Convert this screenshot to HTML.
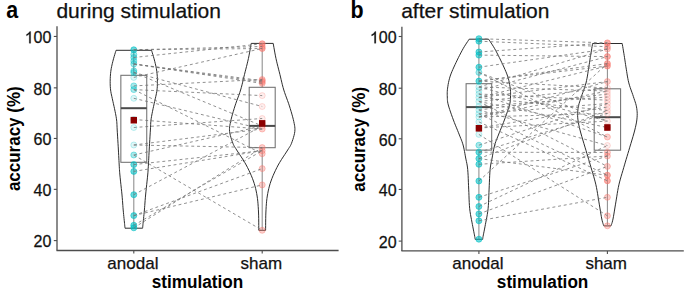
<!DOCTYPE html>
<html><head><meta charset="utf-8"><style>
html,body{margin:0;padding:0;background:#fff;width:685px;height:292px;overflow:hidden}
svg{display:block;font-family:"Liberation Sans",sans-serif}
</style></head><body>
<svg width="685" height="292" viewBox="0 0 685 292">
<rect width="685" height="292" fill="#fff"/>
<path d="M151.55,50.30 L151.87,51.35 L152.31,52.80 L152.84,54.52 L153.39,56.39 L153.93,58.25 L154.40,60.00 L154.82,61.65 L155.23,63.31 L155.63,64.98 L155.99,66.66 L156.32,68.33 L156.60,70.00 L156.83,71.67 L157.01,73.33 L157.16,75.00 L157.27,76.67 L157.35,78.33 L157.40,80.00 L157.42,81.67 L157.41,83.33 L157.38,85.00 L157.30,86.67 L157.17,88.33 L157.00,90.00 L156.76,91.67 L156.46,93.33 L156.11,95.00 L155.74,96.67 L155.36,98.33 L155.00,100.00 L154.64,101.67 L154.27,103.33 L153.89,105.00 L153.51,106.67 L153.15,108.33 L152.80,110.00 L152.46,111.67 L152.13,113.33 L151.80,115.00 L151.50,116.67 L151.23,118.33 L151.00,120.00 L150.84,121.55 L150.73,122.96 L150.66,124.38 L150.60,125.93 L150.52,127.75 L150.40,130.00 L150.23,132.81 L150.03,136.11 L149.81,139.69 L149.59,143.33 L149.38,146.84 L149.20,150.00 L149.04,152.85 L148.90,155.56 L148.77,158.12 L148.64,160.56 L148.52,162.85 L148.40,165.00 L148.29,166.84 L148.21,168.33 L148.13,169.69 L148.03,171.11 L147.90,172.81 L147.70,175.00 L147.42,177.81 L147.07,181.11 L146.68,184.69 L146.29,188.33 L145.91,191.84 L145.60,195.00 L145.35,197.82 L145.13,200.48 L144.94,203.00 L144.77,205.41 L144.59,207.73 L144.40,210.00 L144.19,212.24 L143.98,214.44 L143.76,216.55 L143.56,218.54 L143.37,220.37 L143.20,222.00 L143.06,223.44 L142.93,224.73 L142.83,225.85 L142.73,226.81 L142.66,227.59 L142.60,228.20 L125.00,228.20 L124.94,227.59 L124.87,226.81 L124.78,225.85 L124.67,224.73 L124.54,223.44 L124.40,222.00 L124.23,220.37 L124.04,218.54 L123.84,216.55 L123.62,214.44 L123.41,212.24 L123.20,210.00 L123.01,207.73 L122.83,205.41 L122.66,203.00 L122.47,200.48 L122.25,197.82 L122.00,195.00 L121.69,191.84 L121.31,188.33 L120.92,184.69 L120.53,181.11 L120.18,177.81 L119.90,175.00 L119.70,172.81 L119.57,171.11 L119.47,169.69 L119.39,168.33 L119.31,166.84 L119.20,165.00 L119.08,162.85 L118.96,160.56 L118.83,158.12 L118.70,155.56 L118.56,152.85 L118.40,150.00 L118.22,146.84 L118.01,143.33 L117.79,139.69 L117.57,136.11 L117.37,132.81 L117.20,130.00 L117.08,127.75 L117.00,125.93 L116.94,124.38 L116.87,122.96 L116.76,121.55 L116.60,120.00 L116.37,118.33 L116.10,116.67 L115.80,115.00 L115.47,113.33 L115.14,111.67 L114.80,110.00 L114.45,108.33 L114.09,106.67 L113.71,105.00 L113.33,103.33 L112.96,101.67 L112.60,100.00 L112.24,98.33 L111.86,96.67 L111.49,95.00 L111.14,93.33 L110.84,91.67 L110.60,90.00 L110.43,88.33 L110.30,86.67 L110.23,85.00 L110.19,83.33 L110.18,81.67 L110.20,80.00 L110.25,78.33 L110.33,76.67 L110.44,75.00 L110.59,73.33 L110.77,71.67 L111.00,70.00 L111.28,68.33 L111.61,66.66 L111.97,64.98 L112.37,63.31 L112.78,61.65 L113.20,60.00 L113.67,58.25 L114.21,56.39 L114.76,54.52 L115.29,52.80 L115.73,51.35 L116.05,50.30 Z" fill="none" stroke="#222" stroke-width="0.95" stroke-linejoin="round"/>
<path d="M273.20,43.40 L273.49,45.05 L273.89,47.32 L274.36,50.01 L274.88,52.93 L275.44,55.86 L276.00,58.60 L276.59,61.20 L277.22,63.83 L277.88,66.48 L278.56,69.13 L279.24,71.77 L279.90,74.40 L280.53,77.01 L281.14,79.60 L281.74,82.19 L282.37,84.79 L283.05,87.38 L283.80,90.00 L284.65,92.63 L285.59,95.29 L286.57,97.94 L287.56,100.60 L288.52,103.26 L289.40,105.90 L290.24,108.60 L291.08,111.36 L291.89,114.13 L292.63,116.80 L293.28,119.32 L293.80,121.60 L294.21,123.56 L294.54,125.26 L294.78,126.79 L294.91,128.27 L294.92,129.81 L294.80,131.50 L294.50,133.42 L294.04,135.48 L293.45,137.60 L292.80,139.67 L292.13,141.61 L291.50,143.30 L290.96,144.62 L290.48,145.60 L289.99,146.45 L289.41,147.34 L288.67,148.46 L287.70,150.00 L286.42,152.01 L284.87,154.35 L283.16,156.92 L281.41,159.62 L279.72,162.35 L278.20,165.00 L276.83,167.62 L275.50,170.30 L274.24,173.00 L273.06,175.70 L271.97,178.38 L271.00,181.00 L270.15,183.55 L269.42,186.04 L268.79,188.50 L268.23,190.96 L267.74,193.45 L267.30,196.00 L266.92,198.58 L266.62,201.17 L266.39,203.79 L266.20,206.46 L266.04,209.19 L265.90,212.00 L265.78,215.13 L265.71,218.61 L265.66,222.15 L265.64,225.47 L265.62,228.28 L265.60,230.30 L258.80,230.30 L258.78,228.28 L258.76,225.47 L258.74,222.15 L258.69,218.61 L258.62,215.13 L258.50,212.00 L258.36,209.19 L258.20,206.46 L258.01,203.79 L257.78,201.17 L257.48,198.58 L257.10,196.00 L256.66,193.45 L256.17,190.96 L255.61,188.50 L254.98,186.04 L254.25,183.55 L253.40,181.00 L252.43,178.38 L251.34,175.70 L250.16,173.00 L248.90,170.30 L247.57,167.62 L246.20,165.00 L244.68,162.35 L242.99,159.62 L241.24,156.92 L239.53,154.35 L237.98,152.01 L236.70,150.00 L235.73,148.46 L234.99,147.34 L234.41,146.45 L233.92,145.60 L233.44,144.62 L232.90,143.30 L232.27,141.61 L231.60,139.67 L230.95,137.60 L230.36,135.48 L229.90,133.42 L229.60,131.50 L229.48,129.81 L229.49,128.27 L229.62,126.79 L229.86,125.26 L230.19,123.56 L230.60,121.60 L231.12,119.32 L231.77,116.80 L232.51,114.13 L233.32,111.36 L234.16,108.60 L235.00,105.90 L235.88,103.26 L236.84,100.60 L237.83,97.94 L238.81,95.29 L239.75,92.63 L240.60,90.00 L241.35,87.38 L242.03,84.79 L242.66,82.19 L243.26,79.60 L243.87,77.01 L244.50,74.40 L245.16,71.77 L245.84,69.13 L246.52,66.48 L247.18,63.83 L247.81,61.20 L248.40,58.60 L248.96,55.86 L249.52,52.93 L250.04,50.01 L250.51,47.32 L250.91,45.05 L251.20,43.40 Z" fill="none" stroke="#222" stroke-width="0.95" stroke-linejoin="round"/>
<line x1="133.8" y1="49.8" x2="133.8" y2="75.3" stroke="#8c8c8c" stroke-width="1.05"/>
<line x1="133.8" y1="162.3" x2="133.8" y2="227.8" stroke="#8c8c8c" stroke-width="1.05"/>
<rect x="120.85000000000001" y="75.3" width="25.9" height="87.00000000000001" fill="none" stroke="#707070" stroke-width="1.05"/>
<line x1="120.85000000000001" y1="108.2" x2="146.75" y2="108.2" stroke="#4a4a4a" stroke-width="2"/>
<line x1="262.2" y1="43.6" x2="262.2" y2="87.3" stroke="#8c8c8c" stroke-width="1.05"/>
<line x1="262.2" y1="147.7" x2="262.2" y2="230.3" stroke="#8c8c8c" stroke-width="1.05"/>
<rect x="249.2" y="87.3" width="26.0" height="60.39999999999999" fill="none" stroke="#707070" stroke-width="1.05"/>
<line x1="249.2" y1="125.9" x2="275.2" y2="125.9" stroke="#4a4a4a" stroke-width="2"/>
<circle cx="133.8" cy="49.8" r="3.0" fill="#00BFC4" fill-opacity="0.58" stroke="#00BFC4" stroke-opacity="0.72" stroke-width="0.8"/>
<circle cx="133.8" cy="54.5" r="3.0" fill="#00BFC4" fill-opacity="0.34" stroke="#00BFC4" stroke-opacity="0.52" stroke-width="0.8"/>
<circle cx="133.8" cy="57.5" r="3.0" fill="#00BFC4" fill-opacity="0.34" stroke="#00BFC4" stroke-opacity="0.52" stroke-width="0.8"/>
<circle cx="133.8" cy="61" r="3.0" fill="#00BFC4" fill-opacity="0.34" stroke="#00BFC4" stroke-opacity="0.52" stroke-width="0.8"/>
<circle cx="133.8" cy="64" r="3.0" fill="#00BFC4" fill-opacity="0.34" stroke="#00BFC4" stroke-opacity="0.52" stroke-width="0.8"/>
<circle cx="133.8" cy="70.8" r="3.0" fill="#00BFC4" fill-opacity="0.34" stroke="#00BFC4" stroke-opacity="0.52" stroke-width="0.8"/>
<circle cx="133.8" cy="72.5" r="3.0" fill="#00BFC4" fill-opacity="0.34" stroke="#00BFC4" stroke-opacity="0.52" stroke-width="0.8"/>
<circle cx="133.8" cy="77.4" r="3.0" fill="#00BFC4" fill-opacity="0.12" stroke="#00BFC4" stroke-opacity="0.3" stroke-width="0.8"/>
<circle cx="133.8" cy="85.9" r="3.0" fill="#00BFC4" fill-opacity="0.34" stroke="#00BFC4" stroke-opacity="0.52" stroke-width="0.8"/>
<circle cx="133.8" cy="89.6" r="3.0" fill="#00BFC4" fill-opacity="0.34" stroke="#00BFC4" stroke-opacity="0.52" stroke-width="0.8"/>
<circle cx="133.8" cy="98.3" r="3.0" fill="#00BFC4" fill-opacity="0.12" stroke="#00BFC4" stroke-opacity="0.3" stroke-width="0.8"/>
<circle cx="133.8" cy="119.5" r="3.0" fill="#00BFC4" fill-opacity="0.12" stroke="#00BFC4" stroke-opacity="0.3" stroke-width="0.8"/>
<circle cx="133.8" cy="127.5" r="3.0" fill="#00BFC4" fill-opacity="0.12" stroke="#00BFC4" stroke-opacity="0.3" stroke-width="0.8"/>
<circle cx="133.8" cy="145" r="3.0" fill="#00BFC4" fill-opacity="0.12" stroke="#00BFC4" stroke-opacity="0.3" stroke-width="0.8"/>
<circle cx="133.8" cy="155" r="3.0" fill="#00BFC4" fill-opacity="0.34" stroke="#00BFC4" stroke-opacity="0.52" stroke-width="0.8"/>
<circle cx="133.8" cy="164.6" r="3.0" fill="#00BFC4" fill-opacity="0.58" stroke="#00BFC4" stroke-opacity="0.72" stroke-width="0.8"/>
<circle cx="133.8" cy="171.4" r="3.0" fill="#00BFC4" fill-opacity="0.58" stroke="#00BFC4" stroke-opacity="0.72" stroke-width="0.8"/>
<circle cx="133.8" cy="194.7" r="3.0" fill="#00BFC4" fill-opacity="0.58" stroke="#00BFC4" stroke-opacity="0.72" stroke-width="0.8"/>
<circle cx="133.8" cy="215.6" r="3.0" fill="#00BFC4" fill-opacity="0.58" stroke="#00BFC4" stroke-opacity="0.72" stroke-width="0.8"/>
<circle cx="133.8" cy="225.3" r="3.0" fill="#00BFC4" fill-opacity="0.58" stroke="#00BFC4" stroke-opacity="0.72" stroke-width="0.8"/>
<circle cx="133.8" cy="227.8" r="3.0" fill="#00BFC4" fill-opacity="0.58" stroke="#00BFC4" stroke-opacity="0.72" stroke-width="0.8"/>
<circle cx="262.2" cy="43.8" r="3.0" fill="#F8766D" fill-opacity="0.58" stroke="#F8766D" stroke-opacity="0.72" stroke-width="0.8"/>
<circle cx="262.2" cy="46.5" r="3.0" fill="#F8766D" fill-opacity="0.34" stroke="#F8766D" stroke-opacity="0.52" stroke-width="0.8"/>
<circle cx="262.2" cy="48.5" r="3.0" fill="#F8766D" fill-opacity="0.58" stroke="#F8766D" stroke-opacity="0.72" stroke-width="0.8"/>
<circle cx="262.2" cy="79.5" r="3.0" fill="#F8766D" fill-opacity="0.34" stroke="#F8766D" stroke-opacity="0.52" stroke-width="0.8"/>
<circle cx="262.2" cy="80.7" r="3.0" fill="#F8766D" fill-opacity="0.34" stroke="#F8766D" stroke-opacity="0.52" stroke-width="0.8"/>
<circle cx="262.2" cy="82" r="3.0" fill="#F8766D" fill-opacity="0.34" stroke="#F8766D" stroke-opacity="0.52" stroke-width="0.8"/>
<circle cx="262.2" cy="83.4" r="3.0" fill="#F8766D" fill-opacity="0.34" stroke="#F8766D" stroke-opacity="0.52" stroke-width="0.8"/>
<circle cx="262.2" cy="95.6" r="3.0" fill="#F8766D" fill-opacity="0.12" stroke="#F8766D" stroke-opacity="0.3" stroke-width="0.8"/>
<circle cx="262.2" cy="106.5" r="3.0" fill="#F8766D" fill-opacity="0.12" stroke="#F8766D" stroke-opacity="0.3" stroke-width="0.8"/>
<circle cx="262.2" cy="118.5" r="3.0" fill="#F8766D" fill-opacity="0.12" stroke="#F8766D" stroke-opacity="0.3" stroke-width="0.8"/>
<circle cx="262.2" cy="123.4" r="3.0" fill="#F8766D" fill-opacity="0.12" stroke="#F8766D" stroke-opacity="0.3" stroke-width="0.8"/>
<circle cx="262.2" cy="126" r="3.0" fill="#F8766D" fill-opacity="0.12" stroke="#F8766D" stroke-opacity="0.3" stroke-width="0.8"/>
<circle cx="262.2" cy="129" r="3.0" fill="#F8766D" fill-opacity="0.34" stroke="#F8766D" stroke-opacity="0.52" stroke-width="0.8"/>
<circle cx="262.2" cy="147.6" r="3.0" fill="#F8766D" fill-opacity="0.34" stroke="#F8766D" stroke-opacity="0.52" stroke-width="0.8"/>
<circle cx="262.2" cy="150.7" r="3.0" fill="#F8766D" fill-opacity="0.34" stroke="#F8766D" stroke-opacity="0.52" stroke-width="0.8"/>
<circle cx="262.2" cy="153.7" r="3.0" fill="#F8766D" fill-opacity="0.34" stroke="#F8766D" stroke-opacity="0.52" stroke-width="0.8"/>
<circle cx="262.2" cy="168.6" r="3.0" fill="#F8766D" fill-opacity="0.34" stroke="#F8766D" stroke-opacity="0.52" stroke-width="0.8"/>
<circle cx="262.2" cy="184.9" r="3.0" fill="#F8766D" fill-opacity="0.34" stroke="#F8766D" stroke-opacity="0.52" stroke-width="0.8"/>
<circle cx="262.2" cy="230.3" r="3.0" fill="#F8766D" fill-opacity="0.34" stroke="#F8766D" stroke-opacity="0.52" stroke-width="0.8"/>
<line x1="133.8" y1="49.8" x2="262.2" y2="46.5" stroke="#747474" stroke-width="0.8" stroke-dasharray="2.9 2.85"/>
<line x1="133.8" y1="49.8" x2="262.2" y2="48.5" stroke="#747474" stroke-width="0.8" stroke-dasharray="2.9 2.85"/>
<line x1="133.8" y1="57.5" x2="262.2" y2="43.8" stroke="#747474" stroke-width="0.8" stroke-dasharray="2.9 2.85"/>
<line x1="133.8" y1="64" x2="262.2" y2="80.7" stroke="#747474" stroke-width="0.8" stroke-dasharray="2.9 2.85"/>
<line x1="133.8" y1="64" x2="262.2" y2="82" stroke="#747474" stroke-width="0.8" stroke-dasharray="2.9 2.85"/>
<line x1="133.8" y1="64" x2="262.2" y2="83.4" stroke="#747474" stroke-width="0.8" stroke-dasharray="2.9 2.85"/>
<line x1="133.8" y1="72.5" x2="262.2" y2="126" stroke="#747474" stroke-width="0.8" stroke-dasharray="2.9 2.85"/>
<line x1="133.8" y1="72.5" x2="262.2" y2="106.5" stroke="#747474" stroke-width="0.8" stroke-dasharray="2.9 2.85"/>
<line x1="133.8" y1="77.4" x2="262.2" y2="48.5" stroke="#747474" stroke-width="0.8" stroke-dasharray="2.9 2.85"/>
<line x1="133.8" y1="85.9" x2="262.2" y2="79.5" stroke="#747474" stroke-width="0.8" stroke-dasharray="2.9 2.85"/>
<line x1="133.8" y1="89.6" x2="262.2" y2="95.6" stroke="#747474" stroke-width="0.8" stroke-dasharray="2.9 2.85"/>
<line x1="133.8" y1="89.6" x2="262.2" y2="153.7" stroke="#747474" stroke-width="0.8" stroke-dasharray="2.9 2.85"/>
<line x1="133.8" y1="98.3" x2="262.2" y2="129" stroke="#747474" stroke-width="0.8" stroke-dasharray="2.9 2.85"/>
<line x1="133.8" y1="119.5" x2="262.2" y2="129" stroke="#747474" stroke-width="0.8" stroke-dasharray="2.9 2.85"/>
<line x1="133.8" y1="127.5" x2="262.2" y2="118.5" stroke="#747474" stroke-width="0.8" stroke-dasharray="2.9 2.85"/>
<line x1="133.8" y1="145" x2="262.2" y2="147.6" stroke="#747474" stroke-width="0.8" stroke-dasharray="2.9 2.85"/>
<line x1="133.8" y1="145" x2="262.2" y2="129" stroke="#747474" stroke-width="0.8" stroke-dasharray="2.9 2.85"/>
<line x1="133.8" y1="155" x2="262.2" y2="230.3" stroke="#747474" stroke-width="0.8" stroke-dasharray="2.9 2.85"/>
<line x1="133.8" y1="155" x2="262.2" y2="126" stroke="#747474" stroke-width="0.8" stroke-dasharray="2.9 2.85"/>
<line x1="133.8" y1="164.6" x2="262.2" y2="150.7" stroke="#747474" stroke-width="0.8" stroke-dasharray="2.9 2.85"/>
<line x1="133.8" y1="171.4" x2="262.2" y2="150.7" stroke="#747474" stroke-width="0.8" stroke-dasharray="2.9 2.85"/>
<line x1="133.8" y1="194.7" x2="262.2" y2="126" stroke="#747474" stroke-width="0.8" stroke-dasharray="2.9 2.85"/>
<line x1="133.8" y1="215.6" x2="262.2" y2="168.6" stroke="#747474" stroke-width="0.8" stroke-dasharray="2.9 2.85"/>
<line x1="133.8" y1="215.6" x2="262.2" y2="184.9" stroke="#747474" stroke-width="0.8" stroke-dasharray="2.9 2.85"/>
<line x1="133.8" y1="225.3" x2="262.2" y2="150.7" stroke="#747474" stroke-width="0.8" stroke-dasharray="2.9 2.85"/>
<line x1="133.8" y1="227.8" x2="262.2" y2="147.6" stroke="#747474" stroke-width="0.8" stroke-dasharray="2.9 2.85"/>
<rect x="130.60000000000002" y="116.9" width="6.4" height="6.6" fill="#8B0000"/>
<rect x="259.0" y="120.10000000000001" width="6.4" height="6.6" fill="#8B0000"/>
<line x1="57.0" y1="26.2" x2="57.0" y2="250.5" stroke="#4d4d4d" stroke-width="1.3"/>
<line x1="56.5" y1="250.5" x2="338.6" y2="250.5" stroke="#4d4d4d" stroke-width="1.3"/>
<line x1="53.8" y1="36.45" x2="57.0" y2="36.45" stroke="#4d4d4d" stroke-width="1.1"/>
<text transform="translate(51.4,43.25) scale(1,1.02)" text-anchor="end" font-size="16" fill="#111" stroke="#111" stroke-width="0.25">00</text>
<path transform="translate(24.70,43.25) scale(0.00781,-0.00797)" d="M763 0H583V1147Q518 1085 412.5 1023Q307 961 223 930V1104Q374 1175 487 1276Q600 1377 647 1472H763Z" fill="#111" stroke="#111" stroke-width="32.0"/>
<line x1="53.8" y1="87.85" x2="57.0" y2="87.85" stroke="#4d4d4d" stroke-width="1.1"/>
<text transform="translate(51.4,94.64999999999999) scale(1,1.02)" text-anchor="end" font-size="16" fill="#111" stroke="#111" stroke-width="0.25">80</text>
<line x1="53.8" y1="138.45" x2="57.0" y2="138.45" stroke="#4d4d4d" stroke-width="1.1"/>
<text transform="translate(51.4,145.25) scale(1,1.02)" text-anchor="end" font-size="16" fill="#111" stroke="#111" stroke-width="0.25">60</text>
<line x1="53.8" y1="189.35" x2="57.0" y2="189.35" stroke="#4d4d4d" stroke-width="1.1"/>
<text transform="translate(51.4,196.15) scale(1,1.02)" text-anchor="end" font-size="16" fill="#111" stroke="#111" stroke-width="0.25">40</text>
<line x1="53.8" y1="240.6" x2="57.0" y2="240.6" stroke="#4d4d4d" stroke-width="1.1"/>
<text transform="translate(51.4,247.4) scale(1,1.02)" text-anchor="end" font-size="16" fill="#111" stroke="#111" stroke-width="0.25">20</text>
<line x1="133.8" y1="250.5" x2="133.8" y2="253.5" stroke="#4d4d4d" stroke-width="1.1"/>
<line x1="262.2" y1="250.5" x2="262.2" y2="253.5" stroke="#4d4d4d" stroke-width="1.1"/>
<text x="132.9" y="268.8" text-anchor="middle" font-size="17" fill="#111" stroke="#111" stroke-width="0.25">anodal</text>
<text x="261.3" y="268.8" text-anchor="middle" font-size="17" fill="#111" stroke="#111" stroke-width="0.25">sham</text>
<text transform="translate(197.5,287.8) scale(1.01,1.04)" text-anchor="middle" font-size="17" font-weight="bold" fill="#000">stimulation</text>
<text transform="translate(19.8,138.7) rotate(-90) scale(1,1.07)" text-anchor="middle" font-size="17" font-weight="bold" fill="#000">accuracy (%)</text>
<text transform="translate(6.3,18) scale(1.02,1.12)" font-size="21" font-weight="bold" fill="#000">a</text>
<text x="56.4" y="17.6" font-size="21" fill="#111" stroke="#111" stroke-width="0.25">during stimulation</text>
<path d="M488.60,39.20 L489.25,40.18 L490.15,41.51 L491.21,43.09 L492.37,44.87 L493.56,46.76 L494.70,48.70 L495.83,50.74 L497.01,52.96 L498.21,55.29 L499.41,57.68 L500.59,60.07 L501.70,62.40 L502.79,64.70 L503.87,67.03 L504.92,69.36 L505.92,71.66 L506.82,73.92 L507.60,76.10 L508.25,78.23 L508.80,80.34 L509.25,82.40 L509.63,84.39 L509.94,86.30 L510.20,88.10 L510.40,89.77 L510.52,91.33 L510.57,92.80 L510.58,94.21 L510.55,95.60 L510.50,97.00 L510.46,98.30 L510.41,99.47 L510.34,100.62 L510.19,101.85 L509.92,103.27 L509.50,105.00 L508.90,107.09 L508.14,109.48 L507.26,112.06 L506.32,114.74 L505.35,117.42 L504.40,120.00 L503.43,122.56 L502.38,125.19 L501.31,127.81 L500.26,130.37 L499.28,132.79 L498.40,135.00 L497.64,136.92 L496.96,138.59 L496.34,140.12 L495.77,141.63 L495.23,143.22 L494.70,145.00 L494.20,147.01 L493.73,149.17 L493.29,151.41 L492.88,153.67 L492.49,155.89 L492.10,158.00 L491.72,159.90 L491.35,161.61 L491.00,163.28 L490.67,165.04 L490.37,167.04 L490.10,169.40 L489.88,172.20 L489.69,175.36 L489.54,178.74 L489.40,182.23 L489.26,185.73 L489.10,189.10 L488.95,192.42 L488.83,195.78 L488.71,199.14 L488.56,202.45 L488.37,205.65 L488.10,208.70 L487.74,211.60 L487.31,214.40 L486.83,217.09 L486.33,219.67 L485.85,222.14 L485.40,224.50 L484.97,226.80 L484.53,229.06 L484.11,231.20 L483.71,233.17 L483.37,234.89 L483.10,236.30 L482.92,237.34 L482.81,238.06 L482.76,238.54 L482.73,238.85 L482.72,239.08 L482.70,239.30 L475.10,239.30 L475.08,239.08 L475.07,238.85 L475.04,238.54 L474.99,238.06 L474.88,237.34 L474.70,236.30 L474.43,234.89 L474.09,233.17 L473.69,231.20 L473.27,229.06 L472.83,226.80 L472.40,224.50 L471.95,222.14 L471.47,219.67 L470.97,217.09 L470.49,214.40 L470.06,211.60 L469.70,208.70 L469.43,205.65 L469.24,202.45 L469.09,199.14 L468.97,195.78 L468.85,192.42 L468.70,189.10 L468.54,185.73 L468.40,182.23 L468.26,178.74 L468.11,175.36 L467.92,172.20 L467.70,169.40 L467.43,167.04 L467.13,165.04 L466.80,163.28 L466.45,161.61 L466.08,159.90 L465.70,158.00 L465.31,155.89 L464.92,153.67 L464.51,151.41 L464.07,149.17 L463.60,147.01 L463.10,145.00 L462.57,143.22 L462.03,141.63 L461.46,140.12 L460.84,138.59 L460.16,136.92 L459.40,135.00 L458.52,132.79 L457.54,130.37 L456.49,127.81 L455.42,125.19 L454.37,122.56 L453.40,120.00 L452.45,117.42 L451.48,114.74 L450.54,112.06 L449.66,109.48 L448.90,107.09 L448.30,105.00 L447.88,103.27 L447.61,101.85 L447.46,100.62 L447.39,99.47 L447.34,98.30 L447.30,97.00 L447.25,95.60 L447.22,94.21 L447.22,92.80 L447.28,91.33 L447.40,89.77 L447.60,88.10 L447.86,86.30 L448.17,84.39 L448.55,82.40 L449.00,80.34 L449.55,78.23 L450.20,76.10 L450.98,73.92 L451.88,71.66 L452.87,69.36 L453.93,67.03 L455.01,64.70 L456.10,62.40 L457.21,60.07 L458.39,57.68 L459.59,55.29 L460.79,52.96 L461.97,50.74 L463.10,48.70 L464.24,46.76 L465.43,44.87 L466.59,43.09 L467.65,41.51 L468.55,40.18 L469.20,39.20 Z" fill="none" stroke="#222" stroke-width="0.95" stroke-linejoin="round"/>
<path d="M622.20,43.50 L622.42,44.79 L622.71,46.55 L623.07,48.64 L623.45,50.93 L623.84,53.26 L624.20,55.50 L624.54,57.68 L624.88,59.94 L625.22,62.24 L625.57,64.57 L625.93,66.90 L626.30,69.20 L626.67,71.48 L627.03,73.77 L627.39,76.05 L627.80,78.33 L628.26,80.62 L628.80,82.90 L629.46,85.22 L630.23,87.59 L631.06,89.96 L631.90,92.29 L632.70,94.51 L633.40,96.60 L634.03,98.51 L634.64,100.29 L635.20,101.96 L635.71,103.59 L636.15,105.22 L636.50,106.90 L636.78,108.59 L636.99,110.24 L637.14,111.89 L637.21,113.58 L637.20,115.34 L637.10,117.20 L636.93,119.10 L636.69,121.00 L636.36,122.96 L635.95,125.07 L635.43,127.39 L634.80,130.00 L634.00,133.01 L633.04,136.39 L631.97,139.97 L630.87,143.63 L629.79,147.19 L628.80,150.50 L627.89,153.56 L627.02,156.48 L626.17,159.31 L625.34,162.10 L624.52,164.88 L623.70,167.70 L622.86,170.56 L622.01,173.41 L621.17,176.26 L620.36,179.10 L619.59,181.95 L618.90,184.80 L618.29,187.65 L617.76,190.50 L617.28,193.35 L616.83,196.20 L616.37,199.05 L615.90,201.90 L615.40,204.87 L614.89,207.98 L614.39,211.09 L613.90,214.06 L613.43,216.74 L613.00,219.00 L612.59,220.82 L612.19,222.31 L611.82,223.52 L611.49,224.49 L611.21,225.27 L611.00,225.90 L603.80,225.90 L603.59,225.27 L603.31,224.49 L602.98,223.52 L602.61,222.31 L602.21,220.82 L601.80,219.00 L601.37,216.74 L600.90,214.06 L600.41,211.09 L599.91,207.98 L599.40,204.87 L598.90,201.90 L598.43,199.05 L597.97,196.20 L597.52,193.35 L597.04,190.50 L596.51,187.65 L595.90,184.80 L595.21,181.95 L594.44,179.10 L593.63,176.26 L592.79,173.41 L591.94,170.56 L591.10,167.70 L590.28,164.88 L589.46,162.10 L588.62,159.31 L587.78,156.48 L586.91,153.56 L586.00,150.50 L585.01,147.19 L583.93,143.63 L582.83,139.97 L581.76,136.39 L580.80,133.01 L580.00,130.00 L579.37,127.39 L578.85,125.07 L578.44,122.96 L578.11,121.00 L577.87,119.10 L577.70,117.20 L577.60,115.34 L577.59,113.58 L577.66,111.89 L577.81,110.24 L578.02,108.59 L578.30,106.90 L578.65,105.22 L579.09,103.59 L579.60,101.96 L580.16,100.29 L580.77,98.51 L581.40,96.60 L582.10,94.51 L582.90,92.29 L583.74,89.96 L584.57,87.59 L585.34,85.22 L586.00,82.90 L586.54,80.62 L587.00,78.33 L587.41,76.05 L587.77,73.77 L588.13,71.48 L588.50,69.20 L588.87,66.90 L589.23,64.57 L589.58,62.24 L589.92,59.94 L590.26,57.68 L590.60,55.50 L590.96,53.26 L591.35,50.93 L591.73,48.64 L592.09,46.55 L592.38,44.79 L592.60,43.50 Z" fill="none" stroke="#222" stroke-width="0.95" stroke-linejoin="round"/>
<line x1="478.9" y1="38.7" x2="478.9" y2="83.7" stroke="#8c8c8c" stroke-width="1.05"/>
<line x1="478.9" y1="150.1" x2="478.9" y2="239.2" stroke="#8c8c8c" stroke-width="1.05"/>
<rect x="466.09999999999997" y="83.7" width="25.6" height="66.39999999999999" fill="none" stroke="#707070" stroke-width="1.05"/>
<line x1="466.09999999999997" y1="107.1" x2="491.7" y2="107.1" stroke="#4a4a4a" stroke-width="2"/>
<line x1="607.4" y1="42.9" x2="607.4" y2="88.8" stroke="#8c8c8c" stroke-width="1.05"/>
<line x1="607.4" y1="150.2" x2="607.4" y2="225.8" stroke="#8c8c8c" stroke-width="1.05"/>
<rect x="594.1999999999999" y="88.8" width="26.4" height="61.39999999999999" fill="none" stroke="#707070" stroke-width="1.05"/>
<line x1="594.1999999999999" y1="117.2" x2="620.6" y2="117.2" stroke="#4a4a4a" stroke-width="2"/>
<circle cx="478.9" cy="38.7" r="3.0" fill="#00BFC4" fill-opacity="0.58" stroke="#00BFC4" stroke-opacity="0.72" stroke-width="0.8"/>
<circle cx="478.9" cy="41.2" r="3.0" fill="#00BFC4" fill-opacity="0.58" stroke="#00BFC4" stroke-opacity="0.72" stroke-width="0.8"/>
<circle cx="478.9" cy="52" r="3.0" fill="#00BFC4" fill-opacity="0.58" stroke="#00BFC4" stroke-opacity="0.72" stroke-width="0.8"/>
<circle cx="478.9" cy="55.1" r="3.0" fill="#00BFC4" fill-opacity="0.58" stroke="#00BFC4" stroke-opacity="0.72" stroke-width="0.8"/>
<circle cx="478.9" cy="67.2" r="3.0" fill="#00BFC4" fill-opacity="0.58" stroke="#00BFC4" stroke-opacity="0.72" stroke-width="0.8"/>
<circle cx="478.9" cy="72.4" r="3.0" fill="#00BFC4" fill-opacity="0.34" stroke="#00BFC4" stroke-opacity="0.52" stroke-width="0.8"/>
<circle cx="478.9" cy="81.1" r="3.0" fill="#00BFC4" fill-opacity="0.58" stroke="#00BFC4" stroke-opacity="0.72" stroke-width="0.8"/>
<circle cx="478.9" cy="87" r="3.0" fill="#00BFC4" fill-opacity="0.12" stroke="#00BFC4" stroke-opacity="0.3" stroke-width="0.8"/>
<circle cx="478.9" cy="90.5" r="3.0" fill="#00BFC4" fill-opacity="0.12" stroke="#00BFC4" stroke-opacity="0.3" stroke-width="0.8"/>
<circle cx="478.9" cy="94" r="3.0" fill="#00BFC4" fill-opacity="0.12" stroke="#00BFC4" stroke-opacity="0.3" stroke-width="0.8"/>
<circle cx="478.9" cy="97.5" r="3.0" fill="#00BFC4" fill-opacity="0.12" stroke="#00BFC4" stroke-opacity="0.3" stroke-width="0.8"/>
<circle cx="478.9" cy="101.5" r="3.0" fill="#00BFC4" fill-opacity="0.12" stroke="#00BFC4" stroke-opacity="0.3" stroke-width="0.8"/>
<circle cx="478.9" cy="106.4" r="3.0" fill="#00BFC4" fill-opacity="0.12" stroke="#00BFC4" stroke-opacity="0.3" stroke-width="0.8"/>
<circle cx="478.9" cy="110" r="3.0" fill="#00BFC4" fill-opacity="0.12" stroke="#00BFC4" stroke-opacity="0.3" stroke-width="0.8"/>
<circle cx="478.9" cy="113.8" r="3.0" fill="#00BFC4" fill-opacity="0.12" stroke="#00BFC4" stroke-opacity="0.3" stroke-width="0.8"/>
<circle cx="478.9" cy="117" r="3.0" fill="#00BFC4" fill-opacity="0.12" stroke="#00BFC4" stroke-opacity="0.3" stroke-width="0.8"/>
<circle cx="478.9" cy="121.9" r="3.0" fill="#00BFC4" fill-opacity="0.12" stroke="#00BFC4" stroke-opacity="0.3" stroke-width="0.8"/>
<circle cx="478.9" cy="128" r="3.0" fill="#00BFC4" fill-opacity="0.12" stroke="#00BFC4" stroke-opacity="0.3" stroke-width="0.8"/>
<circle cx="478.9" cy="134.4" r="3.0" fill="#00BFC4" fill-opacity="0.12" stroke="#00BFC4" stroke-opacity="0.3" stroke-width="0.8"/>
<circle cx="478.9" cy="145.2" r="3.0" fill="#00BFC4" fill-opacity="0.34" stroke="#00BFC4" stroke-opacity="0.52" stroke-width="0.8"/>
<circle cx="478.9" cy="152.2" r="3.0" fill="#00BFC4" fill-opacity="0.58" stroke="#00BFC4" stroke-opacity="0.72" stroke-width="0.8"/>
<circle cx="478.9" cy="158.6" r="3.0" fill="#00BFC4" fill-opacity="0.58" stroke="#00BFC4" stroke-opacity="0.72" stroke-width="0.8"/>
<circle cx="478.9" cy="164.3" r="3.0" fill="#00BFC4" fill-opacity="0.58" stroke="#00BFC4" stroke-opacity="0.72" stroke-width="0.8"/>
<circle cx="478.9" cy="181" r="3.0" fill="#00BFC4" fill-opacity="0.58" stroke="#00BFC4" stroke-opacity="0.72" stroke-width="0.8"/>
<circle cx="478.9" cy="197.3" r="3.0" fill="#00BFC4" fill-opacity="0.58" stroke="#00BFC4" stroke-opacity="0.72" stroke-width="0.8"/>
<circle cx="478.9" cy="206.5" r="3.0" fill="#00BFC4" fill-opacity="0.58" stroke="#00BFC4" stroke-opacity="0.72" stroke-width="0.8"/>
<circle cx="478.9" cy="213.9" r="3.0" fill="#00BFC4" fill-opacity="0.58" stroke="#00BFC4" stroke-opacity="0.72" stroke-width="0.8"/>
<circle cx="478.9" cy="220.8" r="3.0" fill="#00BFC4" fill-opacity="0.58" stroke="#00BFC4" stroke-opacity="0.72" stroke-width="0.8"/>
<circle cx="478.9" cy="239.2" r="3.0" fill="#00BFC4" fill-opacity="0.58" stroke="#00BFC4" stroke-opacity="0.72" stroke-width="0.8"/>
<circle cx="607.4" cy="42.9" r="3.0" fill="#F8766D" fill-opacity="0.58" stroke="#F8766D" stroke-opacity="0.72" stroke-width="0.8"/>
<circle cx="607.4" cy="46.7" r="3.0" fill="#F8766D" fill-opacity="0.34" stroke="#F8766D" stroke-opacity="0.52" stroke-width="0.8"/>
<circle cx="607.4" cy="49" r="3.0" fill="#F8766D" fill-opacity="0.34" stroke="#F8766D" stroke-opacity="0.52" stroke-width="0.8"/>
<circle cx="607.4" cy="56.6" r="3.0" fill="#F8766D" fill-opacity="0.58" stroke="#F8766D" stroke-opacity="0.72" stroke-width="0.8"/>
<circle cx="607.4" cy="63.6" r="3.0" fill="#F8766D" fill-opacity="0.58" stroke="#F8766D" stroke-opacity="0.72" stroke-width="0.8"/>
<circle cx="607.4" cy="66" r="3.0" fill="#F8766D" fill-opacity="0.58" stroke="#F8766D" stroke-opacity="0.72" stroke-width="0.8"/>
<circle cx="607.4" cy="81.6" r="3.0" fill="#F8766D" fill-opacity="0.34" stroke="#F8766D" stroke-opacity="0.52" stroke-width="0.8"/>
<circle cx="607.4" cy="88" r="3.0" fill="#F8766D" fill-opacity="0.12" stroke="#F8766D" stroke-opacity="0.3" stroke-width="0.8"/>
<circle cx="607.4" cy="91" r="3.0" fill="#F8766D" fill-opacity="0.12" stroke="#F8766D" stroke-opacity="0.3" stroke-width="0.8"/>
<circle cx="607.4" cy="94" r="3.0" fill="#F8766D" fill-opacity="0.12" stroke="#F8766D" stroke-opacity="0.3" stroke-width="0.8"/>
<circle cx="607.4" cy="97" r="3.0" fill="#F8766D" fill-opacity="0.12" stroke="#F8766D" stroke-opacity="0.3" stroke-width="0.8"/>
<circle cx="607.4" cy="100.2" r="3.0" fill="#F8766D" fill-opacity="0.12" stroke="#F8766D" stroke-opacity="0.3" stroke-width="0.8"/>
<circle cx="607.4" cy="103.5" r="3.0" fill="#F8766D" fill-opacity="0.12" stroke="#F8766D" stroke-opacity="0.3" stroke-width="0.8"/>
<circle cx="607.4" cy="107" r="3.0" fill="#F8766D" fill-opacity="0.12" stroke="#F8766D" stroke-opacity="0.3" stroke-width="0.8"/>
<circle cx="607.4" cy="110.5" r="3.0" fill="#F8766D" fill-opacity="0.12" stroke="#F8766D" stroke-opacity="0.3" stroke-width="0.8"/>
<circle cx="607.4" cy="113.5" r="3.0" fill="#F8766D" fill-opacity="0.12" stroke="#F8766D" stroke-opacity="0.3" stroke-width="0.8"/>
<circle cx="607.4" cy="121.1" r="3.0" fill="#F8766D" fill-opacity="0.12" stroke="#F8766D" stroke-opacity="0.3" stroke-width="0.8"/>
<circle cx="607.4" cy="127.5" r="3.0" fill="#F8766D" fill-opacity="0.12" stroke="#F8766D" stroke-opacity="0.3" stroke-width="0.8"/>
<circle cx="607.4" cy="137" r="3.0" fill="#F8766D" fill-opacity="0.34" stroke="#F8766D" stroke-opacity="0.52" stroke-width="0.8"/>
<circle cx="607.4" cy="145.5" r="3.0" fill="#F8766D" fill-opacity="0.12" stroke="#F8766D" stroke-opacity="0.3" stroke-width="0.8"/>
<circle cx="607.4" cy="152.5" r="3.0" fill="#F8766D" fill-opacity="0.34" stroke="#F8766D" stroke-opacity="0.52" stroke-width="0.8"/>
<circle cx="607.4" cy="156" r="3.0" fill="#F8766D" fill-opacity="0.34" stroke="#F8766D" stroke-opacity="0.52" stroke-width="0.8"/>
<circle cx="607.4" cy="166.4" r="3.0" fill="#F8766D" fill-opacity="0.34" stroke="#F8766D" stroke-opacity="0.52" stroke-width="0.8"/>
<circle cx="607.4" cy="175.2" r="3.0" fill="#F8766D" fill-opacity="0.58" stroke="#F8766D" stroke-opacity="0.72" stroke-width="0.8"/>
<circle cx="607.4" cy="180.8" r="3.0" fill="#F8766D" fill-opacity="0.58" stroke="#F8766D" stroke-opacity="0.72" stroke-width="0.8"/>
<circle cx="607.4" cy="197.3" r="3.0" fill="#F8766D" fill-opacity="0.34" stroke="#F8766D" stroke-opacity="0.52" stroke-width="0.8"/>
<circle cx="607.4" cy="215.8" r="3.0" fill="#F8766D" fill-opacity="0.34" stroke="#F8766D" stroke-opacity="0.52" stroke-width="0.8"/>
<circle cx="607.4" cy="225.8" r="3.0" fill="#F8766D" fill-opacity="0.34" stroke="#F8766D" stroke-opacity="0.52" stroke-width="0.8"/>
<line x1="478.9" y1="38.7" x2="607.4" y2="42.9" stroke="#747474" stroke-width="0.8" stroke-dasharray="2.9 2.85"/>
<line x1="478.9" y1="41.2" x2="607.4" y2="46.7" stroke="#747474" stroke-width="0.8" stroke-dasharray="2.9 2.85"/>
<line x1="478.9" y1="52" x2="607.4" y2="42.9" stroke="#747474" stroke-width="0.8" stroke-dasharray="2.9 2.85"/>
<line x1="478.9" y1="55.1" x2="607.4" y2="56.6" stroke="#747474" stroke-width="0.8" stroke-dasharray="2.9 2.85"/>
<line x1="478.9" y1="67.2" x2="607.4" y2="49" stroke="#747474" stroke-width="0.8" stroke-dasharray="2.9 2.85"/>
<line x1="478.9" y1="72.4" x2="607.4" y2="137" stroke="#747474" stroke-width="0.8" stroke-dasharray="2.9 2.85"/>
<line x1="478.9" y1="72.4" x2="607.4" y2="121.1" stroke="#747474" stroke-width="0.8" stroke-dasharray="2.9 2.85"/>
<line x1="478.9" y1="81.1" x2="607.4" y2="66" stroke="#747474" stroke-width="0.8" stroke-dasharray="2.9 2.85"/>
<line x1="478.9" y1="81.1" x2="607.4" y2="88" stroke="#747474" stroke-width="0.8" stroke-dasharray="2.9 2.85"/>
<line x1="478.9" y1="81.1" x2="607.4" y2="63.6" stroke="#747474" stroke-width="0.8" stroke-dasharray="2.9 2.85"/>
<line x1="478.9" y1="87" x2="607.4" y2="49" stroke="#747474" stroke-width="0.8" stroke-dasharray="2.9 2.85"/>
<line x1="478.9" y1="87" x2="607.4" y2="91" stroke="#747474" stroke-width="0.8" stroke-dasharray="2.9 2.85"/>
<line x1="478.9" y1="87" x2="607.4" y2="121.1" stroke="#747474" stroke-width="0.8" stroke-dasharray="2.9 2.85"/>
<line x1="478.9" y1="90.5" x2="607.4" y2="56.6" stroke="#747474" stroke-width="0.8" stroke-dasharray="2.9 2.85"/>
<line x1="478.9" y1="94" x2="607.4" y2="100.2" stroke="#747474" stroke-width="0.8" stroke-dasharray="2.9 2.85"/>
<line x1="478.9" y1="94" x2="607.4" y2="137" stroke="#747474" stroke-width="0.8" stroke-dasharray="2.9 2.85"/>
<line x1="478.9" y1="97.5" x2="607.4" y2="66" stroke="#747474" stroke-width="0.8" stroke-dasharray="2.9 2.85"/>
<line x1="478.9" y1="97.5" x2="607.4" y2="110.5" stroke="#747474" stroke-width="0.8" stroke-dasharray="2.9 2.85"/>
<line x1="478.9" y1="97.5" x2="607.4" y2="81.6" stroke="#747474" stroke-width="0.8" stroke-dasharray="2.9 2.85"/>
<line x1="478.9" y1="101.5" x2="607.4" y2="127.5" stroke="#747474" stroke-width="0.8" stroke-dasharray="2.9 2.85"/>
<line x1="478.9" y1="101.5" x2="607.4" y2="166.4" stroke="#747474" stroke-width="0.8" stroke-dasharray="2.9 2.85"/>
<line x1="478.9" y1="101.5" x2="607.4" y2="88" stroke="#747474" stroke-width="0.8" stroke-dasharray="2.9 2.85"/>
<line x1="478.9" y1="106.4" x2="607.4" y2="97" stroke="#747474" stroke-width="0.8" stroke-dasharray="2.9 2.85"/>
<line x1="478.9" y1="110" x2="607.4" y2="145.5" stroke="#747474" stroke-width="0.8" stroke-dasharray="2.9 2.85"/>
<line x1="478.9" y1="110" x2="607.4" y2="94" stroke="#747474" stroke-width="0.8" stroke-dasharray="2.9 2.85"/>
<line x1="478.9" y1="113.8" x2="607.4" y2="175.2" stroke="#747474" stroke-width="0.8" stroke-dasharray="2.9 2.85"/>
<line x1="478.9" y1="113.8" x2="607.4" y2="103.5" stroke="#747474" stroke-width="0.8" stroke-dasharray="2.9 2.85"/>
<line x1="478.9" y1="117" x2="607.4" y2="81.6" stroke="#747474" stroke-width="0.8" stroke-dasharray="2.9 2.85"/>
<line x1="478.9" y1="117" x2="607.4" y2="113.5" stroke="#747474" stroke-width="0.8" stroke-dasharray="2.9 2.85"/>
<line x1="478.9" y1="117" x2="607.4" y2="91" stroke="#747474" stroke-width="0.8" stroke-dasharray="2.9 2.85"/>
<line x1="478.9" y1="121.9" x2="607.4" y2="180.8" stroke="#747474" stroke-width="0.8" stroke-dasharray="2.9 2.85"/>
<line x1="478.9" y1="128" x2="607.4" y2="107" stroke="#747474" stroke-width="0.8" stroke-dasharray="2.9 2.85"/>
<line x1="478.9" y1="128" x2="607.4" y2="121.1" stroke="#747474" stroke-width="0.8" stroke-dasharray="2.9 2.85"/>
<line x1="478.9" y1="145.2" x2="607.4" y2="103.5" stroke="#747474" stroke-width="0.8" stroke-dasharray="2.9 2.85"/>
<line x1="478.9" y1="152.2" x2="607.4" y2="113.5" stroke="#747474" stroke-width="0.8" stroke-dasharray="2.9 2.85"/>
<line x1="478.9" y1="152.2" x2="607.4" y2="152.5" stroke="#747474" stroke-width="0.8" stroke-dasharray="2.9 2.85"/>
<line x1="478.9" y1="158.6" x2="607.4" y2="110.5" stroke="#747474" stroke-width="0.8" stroke-dasharray="2.9 2.85"/>
<line x1="478.9" y1="158.6" x2="607.4" y2="175.2" stroke="#747474" stroke-width="0.8" stroke-dasharray="2.9 2.85"/>
<line x1="478.9" y1="164.3" x2="607.4" y2="156" stroke="#747474" stroke-width="0.8" stroke-dasharray="2.9 2.85"/>
<line x1="478.9" y1="134.4" x2="607.4" y2="215.8" stroke="#747474" stroke-width="0.8" stroke-dasharray="2.9 2.85"/>
<line x1="478.9" y1="181" x2="607.4" y2="63.6" stroke="#747474" stroke-width="0.8" stroke-dasharray="2.9 2.85"/>
<line x1="478.9" y1="197.3" x2="607.4" y2="156" stroke="#747474" stroke-width="0.8" stroke-dasharray="2.9 2.85"/>
<line x1="478.9" y1="206.5" x2="607.4" y2="145.5" stroke="#747474" stroke-width="0.8" stroke-dasharray="2.9 2.85"/>
<line x1="478.9" y1="213.9" x2="607.4" y2="166.4" stroke="#747474" stroke-width="0.8" stroke-dasharray="2.9 2.85"/>
<line x1="478.9" y1="220.8" x2="607.4" y2="197.3" stroke="#747474" stroke-width="0.8" stroke-dasharray="2.9 2.85"/>
<rect x="475.7" y="125.00000000000001" width="6.4" height="6.6" fill="#8B0000"/>
<rect x="604.1999999999999" y="124.2" width="6.4" height="6.6" fill="#8B0000"/>
<line x1="401.9" y1="26.7" x2="401.9" y2="250.9" stroke="#4d4d4d" stroke-width="1.3"/>
<line x1="401.4" y1="250.9" x2="683.8" y2="250.9" stroke="#4d4d4d" stroke-width="1.3"/>
<line x1="398.7" y1="36.5" x2="401.9" y2="36.5" stroke="#4d4d4d" stroke-width="1.1"/>
<text transform="translate(396.6,43.3) scale(1,1.02)" text-anchor="end" font-size="16" fill="#111" stroke="#111" stroke-width="0.25">00</text>
<path transform="translate(369.90,43.3) scale(0.00781,-0.00797)" d="M763 0H583V1147Q518 1085 412.5 1023Q307 961 223 930V1104Q374 1175 487 1276Q600 1377 647 1472H763Z" fill="#111" stroke="#111" stroke-width="32.0"/>
<line x1="398.7" y1="88.2" x2="401.9" y2="88.2" stroke="#4d4d4d" stroke-width="1.1"/>
<text transform="translate(396.6,95.0) scale(1,1.02)" text-anchor="end" font-size="16" fill="#111" stroke="#111" stroke-width="0.25">80</text>
<line x1="398.7" y1="138.8" x2="401.9" y2="138.8" stroke="#4d4d4d" stroke-width="1.1"/>
<text transform="translate(396.6,145.60000000000002) scale(1,1.02)" text-anchor="end" font-size="16" fill="#111" stroke="#111" stroke-width="0.25">60</text>
<line x1="398.7" y1="189.45" x2="401.9" y2="189.45" stroke="#4d4d4d" stroke-width="1.1"/>
<text transform="translate(396.6,196.25) scale(1,1.02)" text-anchor="end" font-size="16" fill="#111" stroke="#111" stroke-width="0.25">40</text>
<line x1="398.7" y1="241.1" x2="401.9" y2="241.1" stroke="#4d4d4d" stroke-width="1.1"/>
<text transform="translate(396.6,247.9) scale(1,1.02)" text-anchor="end" font-size="16" fill="#111" stroke="#111" stroke-width="0.25">20</text>
<line x1="478.9" y1="250.9" x2="478.9" y2="253.9" stroke="#4d4d4d" stroke-width="1.1"/>
<line x1="607.4" y1="250.9" x2="607.4" y2="253.9" stroke="#4d4d4d" stroke-width="1.1"/>
<text x="477.9" y="268.8" text-anchor="middle" font-size="17" fill="#111" stroke="#111" stroke-width="0.25">anodal</text>
<text x="606.2" y="268.8" text-anchor="middle" font-size="17" fill="#111" stroke="#111" stroke-width="0.25">sham</text>
<text transform="translate(542.6,287.8) scale(1.01,1.04)" text-anchor="middle" font-size="17" font-weight="bold" fill="#000">stimulation</text>
<text transform="translate(364.7,139.3) rotate(-90) scale(1,1.07)" text-anchor="middle" font-size="17" font-weight="bold" fill="#000">accuracy (%)</text>
<text transform="translate(350.6,18) scale(1.02,1.12)" font-size="21" font-weight="bold" fill="#000">b</text>
<text x="401.2" y="17.6" font-size="21" fill="#111" stroke="#111" stroke-width="0.25">after stimulation</text>
</svg></body></html>
